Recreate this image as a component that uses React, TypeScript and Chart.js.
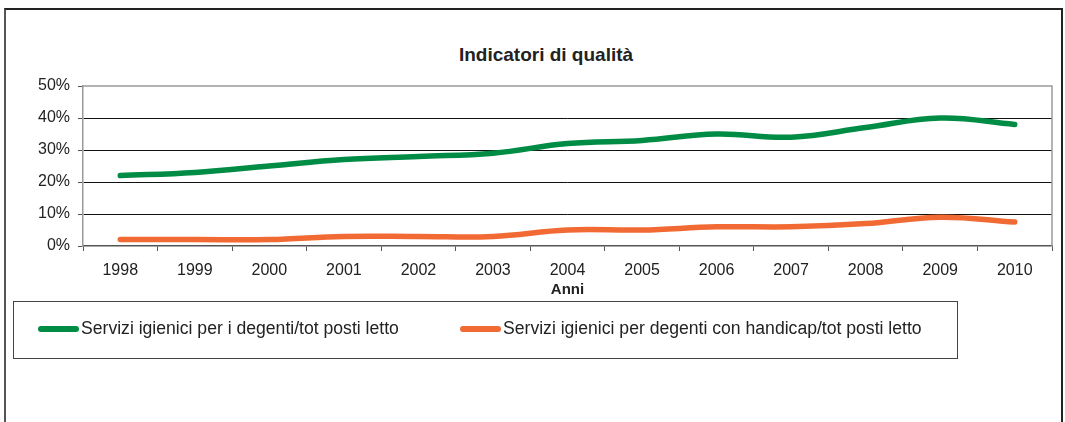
import React, { useEffect, useRef } from "react";
import { Chart, registerables } from "chart.js";

Chart.register(...registerables);

const years = ["1998", "1999", "2000", "2001", "2002", "2003", "2004", "2005", "2006", "2007", "2008", "2009", "2010"];
const serviziDegenti = [22, 23, 25, 27, 28, 29, 32, 33, 35, 34, 37, 40, 38];
const serviziHandicap = [2, 2, 2, 3, 3, 3, 5, 5, 6, 6, 7, 9, 7.5];
const yTicks = [0, 10, 20, 30, 40, 50];

const labelDegenti = "Servizi igienici per i degenti/tot posti letto";
const labelHandicap = "Servizi igienici per degenti con handicap/tot posti letto";
const GREEN = "#008C45";
const ORANGE = "#F26A33";
const FONT = "'Liberation Sans', Arial, sans-serif";

const plotFrame = {
  id: "plotFrame",
  afterDatasetsDraw(chart: any) {
    const { ctx, chartArea } = chart;
    ctx.save();
    ctx.strokeStyle = "#9a9a9a";
    ctx.lineWidth = 1.5;
    ctx.beginPath();
    ctx.moveTo(chartArea.left, chartArea.top);
    ctx.lineTo(chartArea.right, chartArea.top);
    ctx.lineTo(chartArea.right, chartArea.bottom);
    ctx.stroke();
    ctx.restore();
  },
};

export default function App() {
  const ref = useRef<HTMLCanvasElement | null>(null);

  useEffect(() => {
    if (!ref.current) return;
    const chart = new Chart(ref.current, {
      type: "line",
      data: {
        labels: years,
        datasets: [
          {
            label: labelDegenti,
            data: serviziDegenti,
            borderColor: GREEN,
            backgroundColor: GREEN,
            borderWidth: 5.5,
            pointRadius: 0,
            tension: 0.4,
            borderCapStyle: "round",
            borderJoinStyle: "round",
          },
          {
            label: labelHandicap,
            data: serviziHandicap,
            borderColor: ORANGE,
            backgroundColor: ORANGE,
            borderWidth: 5.5,
            pointRadius: 0,
            tension: 0.4,
            borderCapStyle: "round",
            borderJoinStyle: "round",
          },
        ],
      },
      options: {
        animation: false,
        responsive: false,
        layout: { padding: { left: 0, right: 13, top: 86, bottom: 123 } },
        plugins: {
          legend: { display: false },
          title: { display: false },
          tooltip: { enabled: false },
        },
        scales: {
          x: {
            type: "category",
            offset: true,
            afterFit: (s: any) => {
              s.height = 53;
            },
            grid: {
              display: true,
              offset: true,
              drawOnChartArea: false,
              drawTicks: true,
              tickLength: 5,
              tickColor: "#555",
              tickWidth: 1,
            },
            border: { display: true, color: "#555", width: 1.5 },
            ticks: {
              color: "#222",
              font: { family: FONT, size: 16 },
              padding: 10,
              maxRotation: 0,
              autoSkip: false,
            },
            title: {
              display: true,
              text: "Anni",
              color: "#222",
              font: { family: FONT, size: 15, weight: "bold" },
              padding: { top: 0, bottom: 0 },
            },
          },
          y: {
            min: 0,
            max: 50,
            afterFit: (s: any) => {
              s.width = 83;
            },
            afterBuildTicks: (s: any) => {
              s.ticks = yTicks.map((v) => ({ value: v }));
            },
            grid: {
              color: (c: any) => (c.tick && (c.tick.value === 0 || c.tick.value === 50) ? "rgba(0,0,0,0)" : "#111"),
              lineWidth: 1,
              drawTicks: true,
              tickLength: 5,
              tickColor: "#555",
            },
            border: { display: true, color: "#9a9a9a", width: 1.5 },
            ticks: {
              color: "#222",
              font: { family: FONT, size: 16 },
              padding: 8,
              callback: (v: any) => v + "%",
            },
          },
        },
      },
      plugins: [plotFrame],
    });
    return () => chart.destroy();
  }, []);

  const swatch = (color: string) => ({
    display: "inline-block",
    width: 41,
    height: 6,
    borderRadius: 3,
    background: color,
    marginRight: 2,
  });

  return (
    <div style={{ position: "fixed", left: 0, top: 0, width: 1065, height: 422, background: "#fff", overflow: "hidden", fontFamily: FONT }}>
      <div
        style={{
          position: "absolute",
          left: 4,
          top: 8,
          width: 1059,
          height: 600,
          boxSizing: "border-box",
          border: "2px solid #222",
          borderLeftColor: "#555",
        }}
      />
      <div
        style={{
          position: "absolute",
          left: 346,
          top: 43,
          width: 400,
          height: 24,
          lineHeight: "24px",
          textAlign: "center",
          fontWeight: "bold",
          fontSize: 19,
          color: "#222",
        }}
      >
        Indicatori di qualità
      </div>
      <canvas ref={ref} width={1065} height={422} style={{ position: "absolute", left: 0, top: 0, width: 1065, height: 422 }} />
      <div
        style={{
          position: "absolute",
          left: 13,
          top: 301,
          width: 945,
          height: 58,
          boxSizing: "border-box",
          border: "1.5px solid #444",
          background: "transparent",
        }}
      >
        <div style={{ position: "absolute", left: 24, top: 16, display: "flex", alignItems: "center", fontSize: 17.6, color: "#222", whiteSpace: "nowrap" }}>
          <span style={swatch(GREEN)} />
          <span>{labelDegenti}</span>
        </div>
        <div style={{ position: "absolute", left: 446, top: 16, display: "flex", alignItems: "center", fontSize: 17.6, color: "#222", whiteSpace: "nowrap" }}>
          <span style={swatch(ORANGE)} />
          <span>{labelHandicap}</span>
        </div>
      </div>
    </div>
  );
}
